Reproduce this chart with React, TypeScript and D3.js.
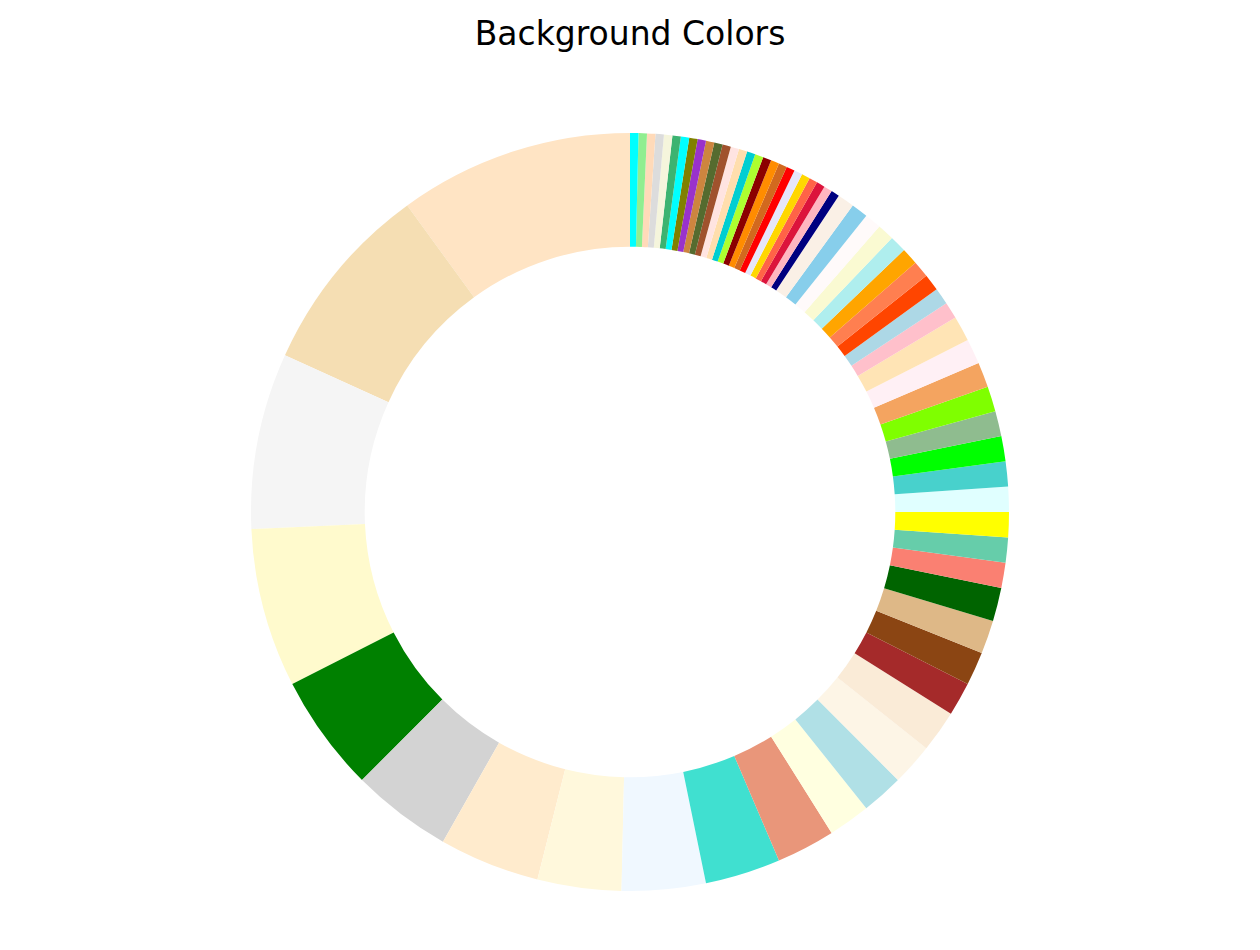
import React, { useRef, useEffect } from "react";
import * as d3 from "d3";

// background colour names, in the order they are drawn (counter-clockwise from the top)
const colorNames: string[] = [
  "bisque", "wheat", "whitesmoke", "lemonchiffon", "green", "lightgray", "blanchedalmond",
  "cornsilk", "aliceblue", "turquoise", "darksalmon", "lightyellow", "powderblue", "oldlace",
  "antiquewhite", "brown", "saddlebrown", "burlywood", "darkgreen", "salmon", "mediumaquamarine",
  "yellow", "lightcyan", "mediumturquoise", "lime", "darkseagreen", "chartreuse", "sandybrown",
  "lavenderblush", "moccasin", "pink", "lightblue", "orangered", "coral", "orange",
  "paleturquoise", "lightgoldenrodyellow", "snow", "skyblue", "linen", "navy", "lightpink",
  "crimson", "tomato", "gold", "lavender", "red", "chocolate", "darkorange", "darkred",
  "greenyellow", "darkturquoise", "navajowhite", "mistyrose", "sienna", "darkolivegreen",
  "peru", "darkorchid", "olive", "aqua", "mediumseagreen", "beige", "gainsboro", "peachpuff",
  "lightgreen", "cyan",
];

// how often each colour occurs
const counts: number[] = [
  28, 23, 21, 19, 14, 12, 12,
  10, 10, 9, 7, 5, 5, 5,
  5, 4, 4, 4, 4, 3, 3,
  3, 3, 3, 3, 3, 3, 3,
  3, 3, 2, 2, 2, 2, 2,
  2, 2, 2, 2, 2, 1, 1,
  1, 1, 1, 1, 1, 1, 1, 1,
  1, 1, 1, 1, 1, 1,
  1, 1, 1, 1, 1, 1, 1, 1,
  1, 1,
];

export default function App() {
  const ref = useRef<SVGSVGElement>(null);

  useEffect(() => {
    const width = 1260, height = 950;
    const cx = 630, cy = 512;
    const outer = 379;
    const inner = outer * 0.7;

    const dataset = colorNames.map((name, i) => ({ name, count: counts[i] }));

    const svg = d3.select(ref.current);
    svg.selectAll("*").remove();
    svg.attr("width", width).attr("height", height);

    svg.append("rect").attr("width", width).attr("height", height).attr("fill", "white");

    const pie = d3.pie<{ name: string; count: number }>()
      .value(d => d.count)
      .sort(null)
      .startAngle(0)
      .endAngle(-2 * Math.PI);

    const arc = d3.arc<d3.PieArcDatum<{ name: string; count: number }>>()
      .innerRadius(inner)
      .outerRadius(outer);

    svg.append("g")
      .attr("transform", `translate(${cx},${cy})`)
      .selectAll("path")
      .data(pie(dataset))
      .enter()
      .append("path")
      .attr("d", arc)
      .attr("fill", d => d.data.name);

    svg.append("text")
      .attr("x", cx)
      .attr("y", 45)
      .attr("text-anchor", "middle")
      .attr("font-family", "DejaVu Sans")
      .attr("font-size", 33)
      .attr("fill", "black")
      .text("Background Colors");
  }, []);

  return <svg ref={ref} style={{ display: "block", position: "absolute", left: 0, top: 0 }}></svg>;
}
